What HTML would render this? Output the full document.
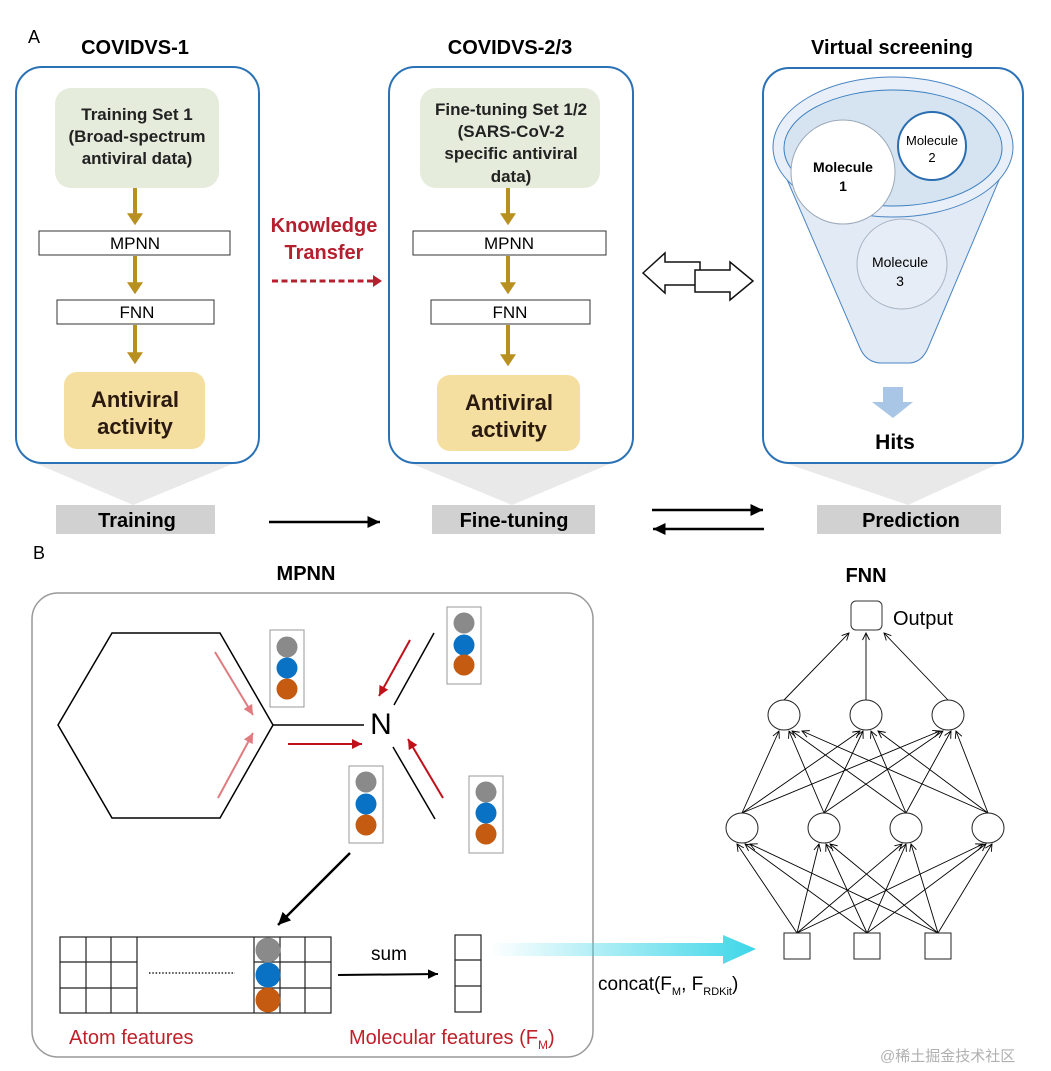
<!DOCTYPE html>
<html><head><meta charset="utf-8"><style>
html,body{margin:0;padding:0;background:#fff;}
svg{display:block;}
text{font-family:"Liberation Sans",Arial,sans-serif;}
</style></head><body>
<svg width="1051" height="1071" viewBox="0 0 1051 1071" xmlns="http://www.w3.org/2000/svg">
<defs>
<marker id="gold" markerWidth="4" markerHeight="4" refX="2.2" refY="2" orient="auto" markerUnits="strokeWidth"><path d="M0,0 L3,2 L0,4 Z" fill="#b8901f"/></marker>
<marker id="blk" markerWidth="6" markerHeight="6" refX="5" refY="3" orient="auto" markerUnits="strokeWidth"><path d="M0,0.6 L5,3 L0,5.4 Z" fill="#000"/></marker>
<marker id="red" markerWidth="6" markerHeight="6" refX="5" refY="3" orient="auto" markerUnits="strokeWidth"><path d="M0,0.5 L5,3 L0,5.5 Z" fill="#c0101a"/></marker>
<marker id="pink" markerWidth="6" markerHeight="6" refX="5" refY="3" orient="auto" markerUnits="strokeWidth"><path d="M0,0.5 L5,3 L0,5.5 Z" fill="#e07b80"/></marker>
<marker id="open" markerWidth="10" markerHeight="10" refX="9" refY="5" orient="auto" markerUnits="userSpaceOnUse"><path d="M2,1.5 L9,5 L2,8.5" fill="none" stroke="#000" stroke-width="0.9"/></marker>
<linearGradient id="cy" x1="490" y1="0" x2="756" y2="0" gradientUnits="userSpaceOnUse"><stop offset="0" stop-color="#3dd6e8" stop-opacity="0"/><stop offset="1" stop-color="#3dd6e8"/></linearGradient>
</defs>

<text x="28" y="43" font-size="18">A</text>
<text x="135" y="54" font-size="20" font-weight="bold" text-anchor="middle">COVIDVS-1</text>
<text x="510" y="54" font-size="20" font-weight="bold" text-anchor="middle">COVIDVS-2/3</text>
<text x="892" y="54" font-size="20" font-weight="bold" text-anchor="middle">Virtual screening</text>

<polygon points="35,463 235,463 133,505" fill="#e9e9e9"/>
<polygon points="410,463 612,463 512,505" fill="#e9e9e9"/>
<polygon points="785,463 1000,463 908,505" fill="#e9e9e9"/>

<rect x="16" y="67" width="243" height="396" rx="26" fill="#fff" stroke="#2a72b5" stroke-width="2"/>
<rect x="55" y="88" width="164" height="100" rx="16" fill="#e5ecdc"/>
<g font-size="17" font-weight="bold" text-anchor="middle" fill="#222">
<text x="137" y="120">Training Set 1</text>
<text x="137" y="142">(Broad-spectrum</text>
<text x="137" y="164">antiviral data)</text>
</g>
<line x1="135" y1="188" x2="135" y2="222" stroke="#b8901f" stroke-width="4" marker-end="url(#gold)"/>
<rect x="39" y="231" width="191" height="24" fill="#fff" stroke="#333" stroke-width="1"/>
<text x="135" y="249" font-size="17" text-anchor="middle">MPNN</text>
<line x1="135" y1="256" x2="135" y2="291" stroke="#b8901f" stroke-width="4" marker-end="url(#gold)"/>
<rect x="57" y="300" width="157" height="24" fill="#fff" stroke="#333" stroke-width="1"/>
<text x="137" y="318" font-size="17" text-anchor="middle">FNN</text>
<line x1="135" y1="325" x2="135" y2="361" stroke="#b8901f" stroke-width="4" marker-end="url(#gold)"/>
<rect x="64" y="372" width="141" height="77" rx="13" fill="#f5dfa0"/>
<g font-size="22" font-weight="bold" text-anchor="middle" fill="#2a1a10">
<text x="135" y="407">Antiviral</text>
<text x="135" y="434">activity</text>
</g>

<g font-size="20" font-weight="bold" text-anchor="middle" fill="#b5202e">
<text x="324" y="232">Knowledge</text>
<text x="324" y="259">Transfer</text>
</g>
<line x1="272" y1="281" x2="374" y2="281" stroke="#b5202e" stroke-width="3" stroke-dasharray="6,3.5"/>
<path d="M373,275 L382,281 L373,287 Z" fill="#b5202e"/>

<rect x="389" y="67" width="244" height="396" rx="26" fill="#fff" stroke="#2a72b5" stroke-width="2"/>
<rect x="420" y="88" width="180" height="100" rx="16" fill="#e5ecdc"/>
<g font-size="17" font-weight="bold" text-anchor="middle" fill="#222">
<text x="511" y="115">Fine-tuning Set 1/2</text>
<text x="511" y="137">(SARS-CoV-2</text>
<text x="511" y="159">specific antiviral</text>
<text x="511" y="182">data)</text>
</g>
<line x1="508" y1="188" x2="508" y2="222" stroke="#b8901f" stroke-width="4" marker-end="url(#gold)"/>
<rect x="413" y="231" width="193" height="24" fill="#fff" stroke="#333" stroke-width="1"/>
<text x="509" y="249" font-size="17" text-anchor="middle">MPNN</text>
<line x1="508" y1="256" x2="508" y2="291" stroke="#b8901f" stroke-width="4" marker-end="url(#gold)"/>
<rect x="431" y="300" width="159" height="24" fill="#fff" stroke="#333" stroke-width="1"/>
<text x="510" y="318" font-size="17" text-anchor="middle">FNN</text>
<line x1="508" y1="325" x2="508" y2="363" stroke="#b8901f" stroke-width="4" marker-end="url(#gold)"/>
<rect x="437" y="375" width="143" height="76" rx="13" fill="#f5dfa0"/>
<g font-size="22" font-weight="bold" text-anchor="middle" fill="#2a1a10">
<text x="509" y="410">Antiviral</text>
<text x="509" y="437">activity</text>
</g>

<path d="M643,273 L665,253 L665,262 L700,262 L700,285 L665,285 L665,293 Z" fill="#fff" stroke="#111" stroke-width="1.5"/>
<path d="M695,270 L730,270 L730,262 L753,281 L730,300 L730,292 L695,292 Z" fill="#fff" stroke="#111" stroke-width="1.5"/>

<rect x="763" y="68" width="260" height="395" rx="26" fill="#fff" stroke="#2a72b5" stroke-width="2"/>
<path d="M773,147 L860,348 Q866,362 880,363 L910,363 Q922,362 928,348 L1013,147 Z" fill="#e2ebf5" stroke="#4a85c3" stroke-width="1"/>
<ellipse cx="893" cy="147" rx="120" ry="70" fill="#e8eff8" stroke="#4a85c3" stroke-width="1"/>
<ellipse cx="893" cy="148" rx="109" ry="58" fill="#d6e4f2" stroke="#3a7fc0" stroke-width="1"/>
<circle cx="843" cy="172" r="52" fill="#fff" stroke="#9aa8b8" stroke-width="1"/>
<circle cx="932" cy="146" r="34" fill="#fff" stroke="#2a6db0" stroke-width="2"/>
<circle cx="902" cy="264" r="45" fill="#e6edf6" stroke="#a8b4c4" stroke-width="1"/>
<text x="843" y="172" font-size="14" font-weight="bold" text-anchor="middle">Molecule</text>
<text x="843" y="191" font-size="14" font-weight="bold" text-anchor="middle">1</text>
<text x="932" y="145" font-size="13" text-anchor="middle">Molecule</text>
<text x="932" y="162" font-size="13" text-anchor="middle">2</text>
<text x="900" y="267" font-size="14" text-anchor="middle">Molecule</text>
<text x="900" y="286" font-size="14" text-anchor="middle">3</text>
<path d="M883,387 L903,387 L903,402 L913,402 L893,418 L872,402 L883,402 Z" fill="#a9c6e6"/>
<text x="895" y="449" font-size="21" font-weight="bold" text-anchor="middle">Hits</text>

<rect x="56" y="505" width="159" height="29" fill="#d1d1d1"/>
<text x="137" y="527" font-size="20" font-weight="bold" text-anchor="middle">Training</text>
<rect x="432" y="505" width="163" height="29" fill="#d1d1d1"/>
<text x="514" y="527" font-size="20" font-weight="bold" text-anchor="middle">Fine-tuning</text>
<rect x="817" y="505" width="184" height="29" fill="#d1d1d1"/>
<text x="911" y="527" font-size="20" font-weight="bold" text-anchor="middle">Prediction</text>
<line x1="269" y1="522" x2="380" y2="522" stroke="#000" stroke-width="2.5" marker-end="url(#blk)"/>
<line x1="652" y1="510" x2="763" y2="510" stroke="#000" stroke-width="2.5" marker-end="url(#blk)"/>
<line x1="764" y1="529" x2="653" y2="529" stroke="#000" stroke-width="2.5" marker-end="url(#blk)"/>

<text x="33" y="559" font-size="18">B</text>
<text x="306" y="580" font-size="20" font-weight="bold" text-anchor="middle">MPNN</text>
<text x="866" y="582" font-size="20" font-weight="bold" text-anchor="middle">FNN</text>
<rect x="32" y="593" width="561" height="464" rx="26" fill="#fff" stroke="#999" stroke-width="1.5"/>

<polygon points="58,725 112,633 220,633 273,725 220,818 112,818" fill="none" stroke="#000" stroke-width="1.5"/>
<line x1="273" y1="725" x2="364" y2="725" stroke="#000" stroke-width="1.5"/>
<text x="381" y="734" font-size="30" text-anchor="middle">N</text>
<line x1="394" y1="705" x2="434" y2="633" stroke="#000" stroke-width="1.5"/>
<line x1="393" y1="747" x2="435" y2="819" stroke="#000" stroke-width="1.5"/>
<line x1="215" y1="652" x2="253" y2="715" stroke="#e07b80" stroke-width="2" marker-end="url(#pink)"/>
<line x1="218" y1="798" x2="253" y2="733" stroke="#e07b80" stroke-width="2" marker-end="url(#pink)"/>
<line x1="288" y1="744" x2="362" y2="744" stroke="#c0101a" stroke-width="2" marker-end="url(#red)"/>
<line x1="410" y1="640" x2="379" y2="696" stroke="#c0101a" stroke-width="2" marker-end="url(#red)"/>
<line x1="443" y1="798" x2="408" y2="739" stroke="#c0101a" stroke-width="2" marker-end="url(#red)"/>

<g stroke="#999" stroke-width="1" fill="#fff">
<rect x="270" y="630" width="34" height="77"/>
<rect x="447" y="607" width="34" height="77"/>
<rect x="349" y="766" width="34" height="77"/>
<rect x="469" y="776" width="34" height="77"/>
</g>
<g>
<circle cx="287" cy="647" r="10.5" fill="#8a8a8a"/><circle cx="287" cy="668" r="10.5" fill="#0a72c4"/><circle cx="287" cy="689" r="10.5" fill="#c55a11"/>
<circle cx="464" cy="623" r="10.5" fill="#8a8a8a"/><circle cx="464" cy="645" r="10.5" fill="#0a72c4"/><circle cx="464" cy="665" r="10.5" fill="#c55a11"/>
<circle cx="366" cy="782" r="10.5" fill="#8a8a8a"/><circle cx="366" cy="804" r="10.5" fill="#0a72c4"/><circle cx="366" cy="825" r="10.5" fill="#c55a11"/>
<circle cx="486" cy="792" r="10.5" fill="#8a8a8a"/><circle cx="486" cy="813" r="10.5" fill="#0a72c4"/><circle cx="486" cy="834" r="10.5" fill="#c55a11"/>
</g>
<line x1="350" y1="853" x2="278" y2="925" stroke="#000" stroke-width="2.5" marker-end="url(#blk)"/>

<g stroke="#222" stroke-width="1.2" fill="none">
<rect x="60" y="937" width="271" height="76"/>
<line x1="60" y1="962" x2="137" y2="962"/><line x1="60" y1="988" x2="137" y2="988"/>
<line x1="254" y1="962" x2="331" y2="962"/><line x1="254" y1="988" x2="331" y2="988"/>
<line x1="86" y1="937" x2="86" y2="1013"/><line x1="111" y1="937" x2="111" y2="1013"/><line x1="137" y1="937" x2="137" y2="1013"/>
<line x1="254" y1="937" x2="254" y2="1013"/><line x1="280" y1="937" x2="280" y2="1013"/><line x1="305" y1="937" x2="305" y2="1013"/>
</g>
<line x1="149" y1="973" x2="235" y2="973" stroke="#222" stroke-width="1.5" stroke-dasharray="1.5,1.8"/>
<circle cx="268" cy="950" r="12.5" fill="#8a8a8a"/><circle cx="268" cy="975" r="12.5" fill="#0a72c4"/><circle cx="268" cy="1000" r="12.5" fill="#c55a11"/>
<line x1="338" y1="975" x2="438" y2="974" stroke="#000" stroke-width="2" marker-end="url(#blk)"/>
<text x="389" y="960" font-size="19" text-anchor="middle">sum</text>
<g stroke="#222" stroke-width="1.2" fill="#fff">
<rect x="455" y="935" width="26" height="77"/>
<line x1="455" y1="960" x2="481" y2="960"/><line x1="455" y1="986" x2="481" y2="986"/>
</g>
<text x="69" y="1044" font-size="20" fill="#c0202a">Atom features</text>
<text x="349" y="1044" font-size="20" fill="#c0202a">Molecular features (F<tspan font-size="12" dy="5">M</tspan><tspan dy="-5">)</tspan></text>

<path d="M490,943 L723,943 L723,935 L756,949 L723,964 L723,956 L490,956 Z" fill="url(#cy)"/>
<text x="598" y="990" font-size="19">concat(F<tspan font-size="11" dy="5">M</tspan><tspan dy="-5">, F</tspan><tspan font-size="11" dy="5">RDKit</tspan><tspan dy="-5">)</tspan></text>

<rect x="851" y="601" width="31" height="29" rx="5" fill="#fff" stroke="#333" stroke-width="1"/>
<text x="893" y="625" font-size="20">Output</text>
<g stroke="#000" stroke-width="0.9" marker-end="url(#open)">
<line x1="784" y1="700" x2="849" y2="633"/>
<line x1="866" y1="700" x2="866" y2="633"/>
<line x1="948" y1="700" x2="884" y2="633"/>
<line x1="742" y1="813" x2="779" y2="731"/><line x1="742" y1="813" x2="860" y2="731"/><line x1="742" y1="813" x2="940" y2="731"/>
<line x1="824" y1="813" x2="789" y2="731"/><line x1="824" y1="813" x2="863" y2="731"/><line x1="824" y1="813" x2="943" y2="731"/>
<line x1="906" y1="813" x2="792" y2="731"/><line x1="906" y1="813" x2="871" y2="731"/><line x1="906" y1="813" x2="951" y2="731"/>
<line x1="988" y1="813" x2="802" y2="731"/><line x1="988" y1="813" x2="878" y2="731"/><line x1="988" y1="813" x2="956" y2="731"/>
<line x1="797" y1="933" x2="737" y2="844"/><line x1="797" y1="933" x2="819" y2="844"/><line x1="797" y1="933" x2="902" y2="844"/><line x1="797" y1="933" x2="983" y2="844"/>
<line x1="867" y1="933" x2="745" y2="844"/><line x1="867" y1="933" x2="826" y2="844"/><line x1="867" y1="933" x2="906" y2="844"/><line x1="867" y1="933" x2="986" y2="844"/>
<line x1="938" y1="933" x2="750" y2="844"/><line x1="938" y1="933" x2="830" y2="844"/><line x1="938" y1="933" x2="911" y2="844"/><line x1="938" y1="933" x2="992" y2="844"/>
</g>
<g fill="#fff" stroke="#222" stroke-width="1">
<ellipse cx="784" cy="715" rx="16" ry="15"/><ellipse cx="866" cy="715" rx="16" ry="15"/><ellipse cx="948" cy="715" rx="16" ry="15"/>
<ellipse cx="742" cy="828" rx="16" ry="15"/><ellipse cx="824" cy="828" rx="16" ry="15"/><ellipse cx="906" cy="828" rx="16" ry="15"/><ellipse cx="988" cy="828" rx="16" ry="15"/>
<rect x="784" y="933" width="26" height="26"/><rect x="854" y="933" width="26" height="26"/><rect x="925" y="933" width="26" height="26"/>
</g>

<text x="880" y="1061" font-size="15" fill="#b0b0b0" font-family="'Liberation Sans','Noto Sans CJK SC',sans-serif">@稀土掘金技术社区</text>
</svg>
</body></html>
